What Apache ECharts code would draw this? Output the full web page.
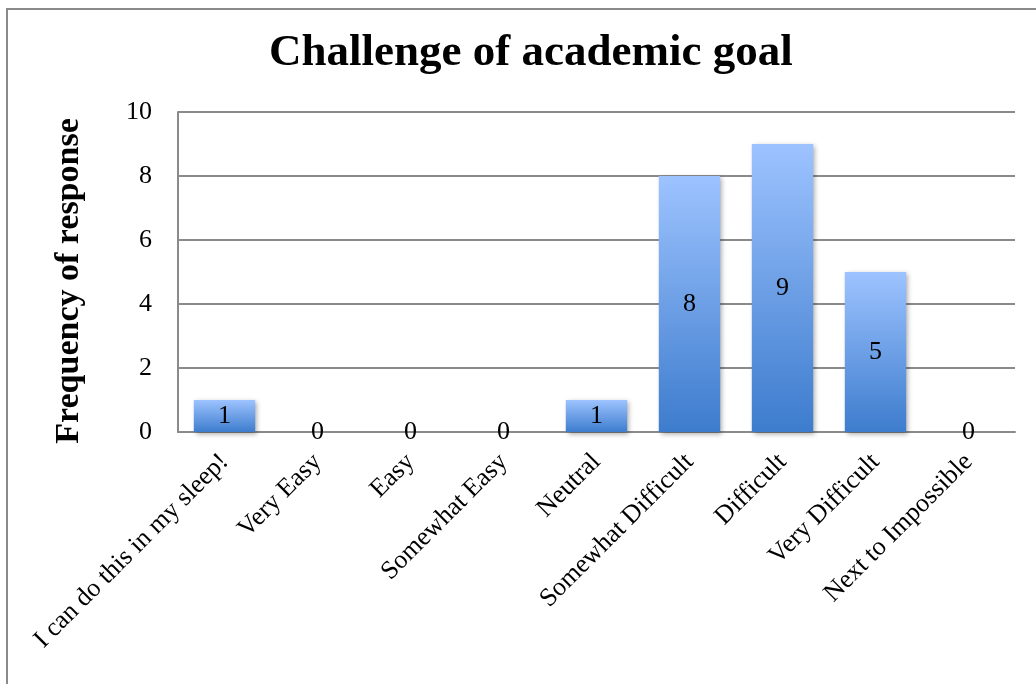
<!DOCTYPE html>
<html>
<head>
<meta charset="utf-8">
<script src="https://cdn.jsdelivr.net/npm/echarts@6/dist/echarts.min.js"></script>
<style>
  html, body { margin: 0; padding: 0; background: #fff; }
  #chart { width: 1036px; height: 684px; }
</style>
</head>
<body>
<div id="chart"></div>
<script>
// Survey answers: how challenging the academic goal feels
const categories = [
  'I can do this in my sleep!',
  'Very Easy',
  'Easy',
  'Somewhat Easy',
  'Neutral',
  'Somewhat Difficult',
  'Difficult',
  'Very Difficult',
  'Next to Impossible'
];
const responses = [1, 0, 0, 0, 1, 8, 9, 5, 0];
const yTicks = { min: 0, max: 10, interval: 2 };

const serif = '"Liberation Serif", "DejaVu Serif", serif';

const chart = echarts.init(document.getElementById('chart'), null, { renderer: 'canvas' });

chart.setOption({
  backgroundColor: '#ffffff',
  animation: false,
  title: {
    text: 'Challenge of academic goal',
    left: 264,
    top: 26,
    textStyle: { fontFamily: serif, fontWeight: 'bold', fontSize: 45, color: '#000' }
  },
  graphic: [{
    type: 'rect',
    shape: { x: 7, y: 9, width: 1060, height: 700 },
    style: { fill: 'none', stroke: '#8a8a8a', lineWidth: 2 },
    silent: true
  }],
  grid: { left: 178, right: 21, top: 112, bottom: 252, containLabel: false },
  xAxis: {
    type: 'category',
    data: categories,
    axisLine: { lineStyle: { color: '#8a8a8a', width: 2 } },
    axisTick: { show: false },
    axisLabel: {
      rotate: 45,
      interval: 0,
      margin: 26,
      fontFamily: serif,
      fontSize: 26,
      color: '#000'
    }
  },
  yAxis: {
    type: 'value',
    min: yTicks.min,
    max: yTicks.max,
    interval: yTicks.interval,
    name: 'Frequency of response',
    nameLocation: 'middle',
    nameGap: 92,
    nameTextStyle: {
      fontFamily: serif, fontWeight: 'bold', fontSize: 34, color: '#000',
      padding: [0, 18, 0, 0]
    },
    axisLine: { show: true, lineStyle: { color: '#8a8a8a', width: 2 } },
    axisTick: { show: false },
    axisLabel: { fontFamily: serif, fontSize: 26, color: '#000', margin: 26 },
    splitLine: { lineStyle: { color: '#8a8a8a', width: 2 } }
  },
  series: [{
    type: 'bar',
    data: responses,
    barWidth: '66%',
    itemStyle: {
      color: new echarts.graphic.LinearGradient(0, 0, 0, 1, [
        { offset: 0, color: '#9dc3ff' },
        { offset: 1, color: '#3d7ccd' }
      ]),
      shadowColor: 'rgba(0,0,0,0.35)',
      shadowBlur: 5,
      shadowOffsetX: 2,
      shadowOffsetY: 2
    },
    label: {
      show: true,
      position: 'inside',
      fontFamily: serif,
      fontSize: 26,
      color: '#000'
    }
  }]
});
</script>
</body>
</html>
